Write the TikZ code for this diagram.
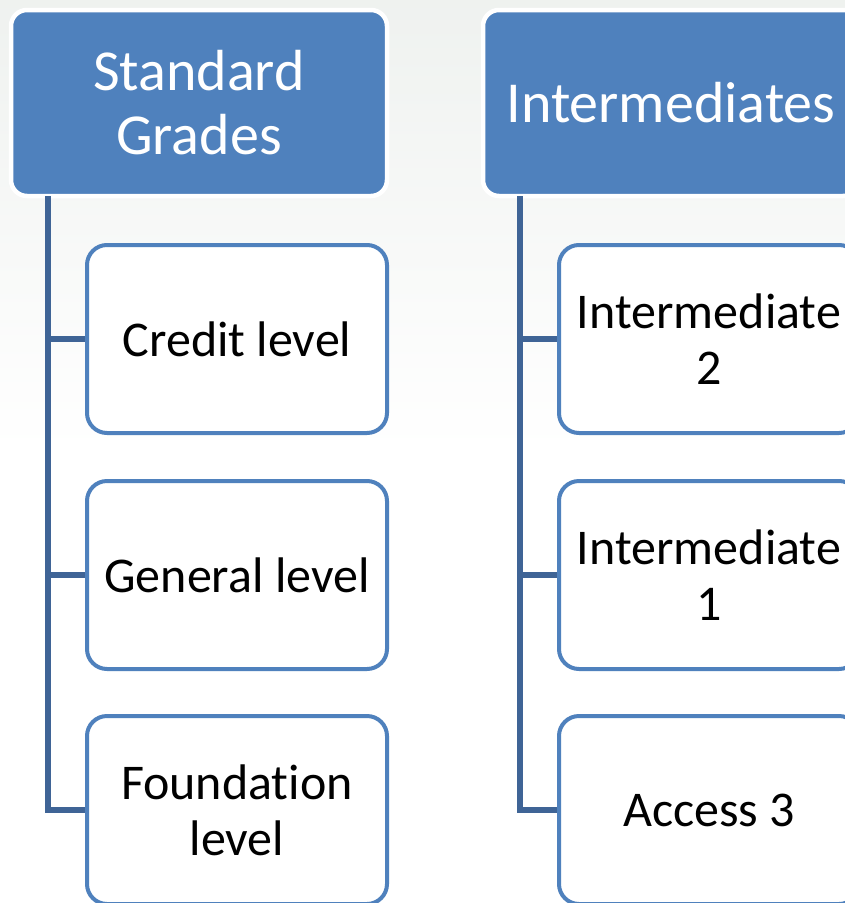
\documentclass[tikz,border=0pt]{standalone}
\usepackage{fontspec}
\setmainfont{Carlito}[RawFeature=-liga]
\definecolor{hdrblue}{RGB}{79,129,189}
\definecolor{lineblue}{RGB}{63,100,150}
\definecolor{bgtop}{RGB}{219,225,220}
\pgfdeclareverticalshading{bgshade}{100bp}{color(0bp)=(white); color(50bp)=(white); color(75bp)=(bgtop!45!white); color(100bp)=(bgtop)}
\begin{document}
\begin{tikzpicture}[x=1pt,y=-1pt,
  header/.style={rectangle, rounded corners=16pt, fill=hdrblue, draw=white, line width=4.5pt,
    minimum width=376pt, minimum height=186pt, text=white, align=center,
    font=\fontsize{58}{64}\selectfont, inner sep=0pt},
  child/.style={rectangle, rounded corners=20pt, fill=white, draw=hdrblue, line width=4pt,
    minimum width=300pt, minimum height=188pt, text=black, align=center,
    font=\fontsize{50}{56}\selectfont, inner sep=0pt},
  conn/.style={draw=lineblue, line width=5.5pt}]
\useasboundingbox (0,0) rectangle (845,903);
\clip (0,0) rectangle (845,903);
\shade[shading=bgshade] (0,0) rectangle (845,903);
% column 1
\node[header] (h1) at (199,103) {Standard\\Grades};
\node[child] (a1) at (237,339) {Credit level};
\node[child] (a2) at (237,575) {General level};
\node[child] (a3) at (237,810) {Foundation\\level};
% column 2
\node[header] (h2) at (671,103) {Intermediates};
\node[child] (b1) at (709,339) {Intermediate\\2};
\node[child] (b2) at (709,575) {Intermediate\\1};
\node[child] (b3) at (709,810) {Access 3};
% connectors
\coordinate (t1) at (48,196);
\coordinate (t2) at (520,196);
\draw[conn] (t1) |- (a3.west);
\draw[conn] (t1 |- a1.west) -- (a1.west);
\draw[conn] (t1 |- a2.west) -- (a2.west);
\draw[conn] (t2) |- (b3.west);
\draw[conn] (t2 |- b1.west) -- (b1.west);
\draw[conn] (t2 |- b2.west) -- (b2.west);
\end{tikzpicture}
\end{document}
